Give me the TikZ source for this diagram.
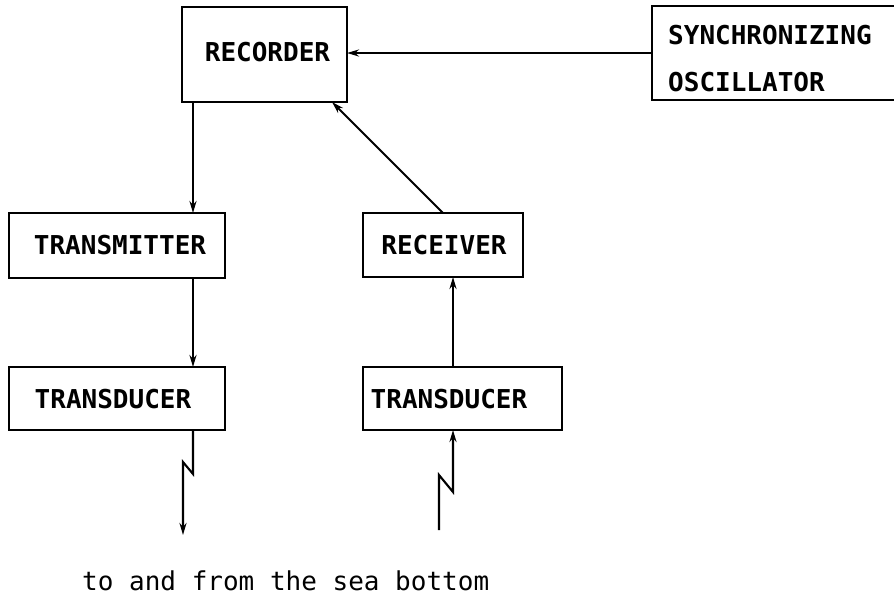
\documentclass[tikz,border=0pt]{standalone}
\usepackage{fontspec}
\setmonofont{DejaVu Sans Mono}
\usetikzlibrary{arrows.meta}
\tikzset{
  box/.style={draw, line width=2.6pt, outer sep=0pt, inner sep=0pt, rectangle},
  lbl/.style={font=\ttfamily\bfseries\fontsize{26}{28}\selectfont, inner sep=0pt},
  conn/.style={line width=2.1pt, -{Stealth[length=12pt,width=7pt]}},
  plain/.style={line width=2.1pt}
}
\begin{document}
\begin{tikzpicture}[x=1pt,y=-1pt]
\useasboundingbox (0,0) rectangle (894,600);
\clip (0,0) rectangle (894,600);
% boxes
\node[box, minimum width=165pt, minimum height=95pt] (rec) at (264.5,54.5) {};
\node[box, minimum width=248pt, minimum height=94pt] (osc) at (776,53) {};
\node[box, minimum width=216pt, minimum height=65pt] (tx) at (117,245.5) {};
\node[box, minimum width=160pt, minimum height=64pt] (rx) at (443,245) {};
\node[box, minimum width=216pt, minimum height=63pt] (td1) at (117,398.5) {};
\node[box, minimum width=199pt, minimum height=63pt] (td2) at (462.5,398.5) {};
% labels
\node[lbl] (lrec) at (267.5,52) {RECORDER};
\node[lbl, anchor=west] (losc1) at (668,35) {SYNCHRONIZING};
\node[lbl, anchor=west] (losc2) at (668,82) {OSCILLATOR};
\node[lbl] (ltx) at (120,245) {TRANSMITTER};
\node[lbl] (lrx) at (444,245) {RECEIVER};
\node[lbl] (ltd1) at (113,399) {TRANSDUCER};
\node[lbl] (ltd2) at (449,399) {TRANSDUCER};
\node[font=\ttfamily\fontsize{26}{28}\selectfont, inner sep=0pt, anchor=base west] (sea) at (82,590) {to and from the sea bottom};
% connectors
\draw[conn] (osc.west) -- (osc.west -| rec.east);
\draw[conn] (rec.south -| 193,0) -- (tx.north -| 193,0);
\draw[conn] (tx.south -| 193,0) -- (td1.north -| 193,0);
\draw[conn] (rx.north) -- (rec.south -| 332,0);
\draw[conn] (td2.north -| 453,0) -- (rx.south -| 453,0);
% zigzag leads
\coordinate (out1) at (183,535);
\coordinate (in2) at (439,530);
\draw[conn] (td1.south -| 193,0) -- (193,474) -- (183,462) -- (out1);
\draw[conn] (in2) -- (439,475) -- (453,492) -- (td2.south -| 453,0);
\end{tikzpicture}
\end{document}
